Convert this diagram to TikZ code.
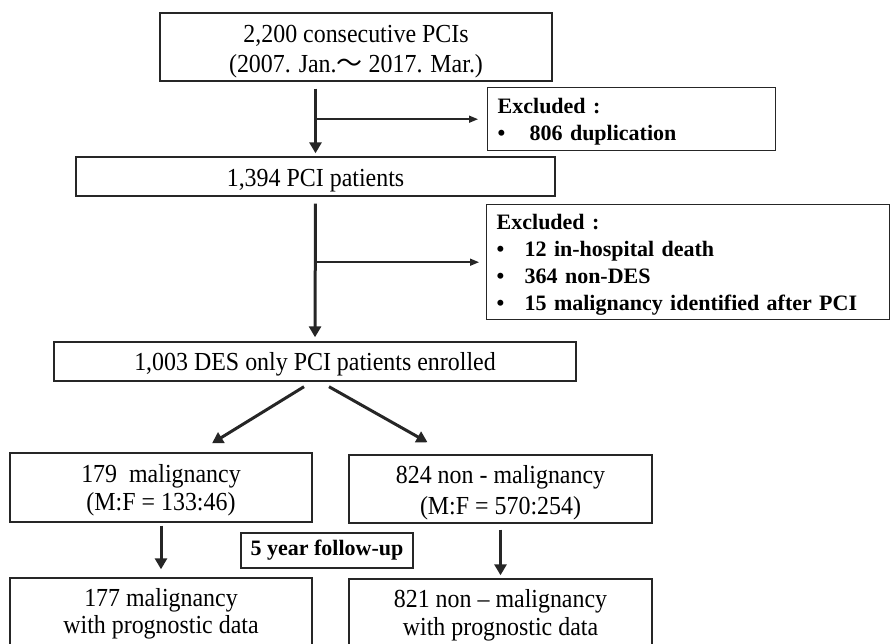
\documentclass[tikz,border=0pt]{standalone}
\usepackage{fontspec}
\setmainfont{Liberation Serif}
\newfontfamily\boxfont{Liberation Serif}[FakeStretch=0.92, Ligatures=TeX]
\newfontfamily\cjkfont{Noto Sans CJK JP}
\usetikzlibrary{arrows.meta, positioning}
\newcommand{\lift}[1]{\rule{0pt}{#1pt}}

\begin{document}
\begin{tikzpicture}[x=1pt, y=-1pt, box/.style={
        rectangle,
        draw=black!85,
        line width=1.4pt,
        align=center,
        inner sep=0pt,
        font=\boxfont\fontsize{26}{29}\selectfont
    }, excl/.style={
        rectangle,
        draw=black!85,
        line width=1.4pt,
        align=left,
        anchor=north west,
        inner xsep=10pt,
        inner ysep=0pt,
        font=\fontsize{22}{27}\selectfont\bfseries
    }, mainarrow/.style={
        draw=black!85, line width=3pt, -{Triangle[width=12pt,length=11pt]}
    }, sidearrow/.style={
        draw=black!85, line width=1.5pt, -{Triangle[width=7pt,length=9pt]}
    }]
    \useasboundingbox (0,0) rectangle (890,643);
    \clip (0,0) rectangle (890,643);

    \node (pcis) [box, minimum width=392pt, minimum height=68pt,
        font=\boxfont\fontsize{26}{30}\selectfont] at (356,47)
        {\lift{26}2,200 consecutive PCIs\\(2007. Jan.{\cjkfont 〜} 2017. Mar.)};
    \node (pts) [box, minimum width=479pt, minimum height=39pt] at (315.5,176.5)
        {\lift{25}1,394 PCI patients};
    \node (dup) [excl, text width=268pt, minimum height=63pt] at (487,87)
        {\lift{21}Excluded :\\\makebox[32pt][l]{\textbullet}806 duplication};
    \node (excl2) [excl, text width=383pt, minimum height=115pt] at (486,204)
        {\lift{21}Excluded :\\
         \makebox[28pt][l]{\textbullet}12 in-hospital death\\
         \makebox[28pt][l]{\textbullet}364 non-DES\\
         \makebox[28pt][l]{\textbullet}15 malignancy identified after PCI};
    \node (des) [box, minimum width=522pt, minimum height=39pt] at (315,361.5)
        {\lift{23}1,003 DES only PCI patients enrolled};
    \node (mal) [box, minimum width=302pt, minimum height=69pt,
        font=\boxfont\fontsize{26}{28}\selectfont] at (161,487.5)
        {\lift{23}179~ malignancy\\(M:F = 133:46)};
    \node (nonmal) [box, minimum width=303pt, minimum height=68pt,
        font=\boxfont\fontsize{26}{31}\selectfont] at (500.5,489)
        {\lift{25}824 non - malignancy\\(M:F = 570:254)};
    \node (fu) [box, minimum width=172pt, minimum height=35pt,
        font=\fontsize{22}{27}\selectfont\bfseries] at (327,550.5) {5 year follow-up};
    \node (mal5) [box, minimum width=302pt, minimum height=72pt,
        font=\boxfont\fontsize{26}{27}\selectfont] at (161,614)
        {177 malignancy\\with prognostic data};
    \node (nonmal5) [box, minimum width=303pt, minimum height=72pt,
        font=\boxfont\fontsize{26}{28}\selectfont] at (500.5,615)
        {821 non \textendash{} malignancy\\with prognostic data};

    \draw [mainarrow, shorten <=7pt, shorten >=3pt] (pcis.south -| pts.north) -- (pts.north);
    \draw [sidearrow, shorten >=9pt] (pts.north |- dup.west) -- (dup.west);
    \draw [mainarrow, shorten <=7pt, shorten >=4pt] (pts.south) -- (des.north);
    \draw [sidearrow, shorten >=7pt] (des.north |- excl2.west) -- (excl2.west);
    \draw [mainarrow] ([xshift=-11pt, yshift=-5pt]des.south) -- ([xshift=51pt, yshift=9pt]mal.north);
    \draw [mainarrow] ([xshift=14pt, yshift=-5pt]des.south) -- ([xshift=-73pt, yshift=12pt]nonmal.north);
    \draw [mainarrow, shorten <=3pt, shorten >=8pt] (mal.south) -- (mal5.north);
    \draw [mainarrow, shorten <=6pt, shorten >=3pt] (nonmal.south) -- (nonmal5.north);

\end{tikzpicture}
\end{document}
